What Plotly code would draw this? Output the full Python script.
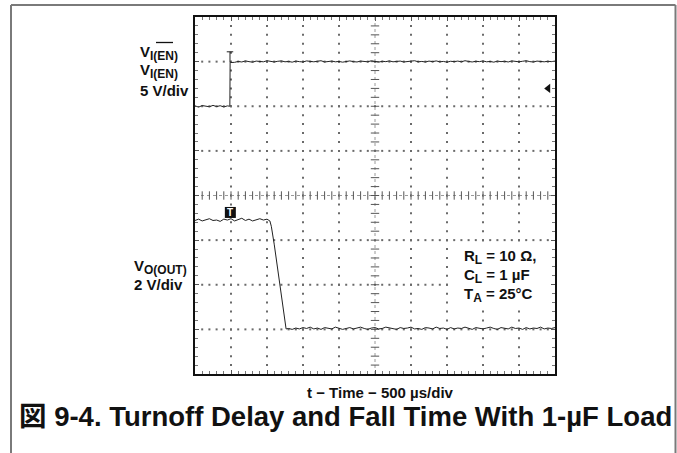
import plotly.graph_objects as go

# ---- scope settings -------------------------------------------------------
X_RANGE_US = [0, 5000]          # 10 divisions at 500 us/div
US_PER_DIV = 500
Y_DIVS = [-4, 4]                # 8 vertical divisions
CH1_OFFSET, CH1_V_PER_DIV = 2.0, 5.0    # V_I(EN), 5 V/div
CH2_OFFSET, CH2_V_PER_DIV = -3.0, 2.0   # V_O(OUT), 2 V/div
TRIGGER_US = 486
TRIGGER_LEVEL_V = 2.0

# ---- channel 1: enable input (V) ------------------------------------------
ch1_t = list(range(0, 451, 50)) + [484, 488] + list(range(500, 5001, 50))
ch1_v = [0.05, -0.10, 0.08, 0.00, -0.06, 0.10, -0.04, 0.06, -0.08, 0.04,
         0.00, 5.00,
         4.90, 4.92, 5.02, 4.96, 5.08, 5.00, 4.94, 5.06, 5.02, 4.98,
         5.10, 5.00, 4.96, 5.04, 5.08, 4.98, 5.02, 4.94, 5.06, 5.00,
         4.96, 5.08, 5.02, 4.98, 5.04, 5.10, 4.96, 5.00, 5.06, 4.98,
         5.02, 4.94, 5.04, 5.08, 5.00, 4.96, 5.06, 5.02, 4.98, 5.10,
         5.00, 4.94, 5.04, 5.00, 5.08, 4.98, 5.02, 5.06, 4.96, 5.00,
         5.04, 5.10, 4.98, 5.02, 4.96, 5.06, 5.00, 5.08, 4.98, 5.02,
         4.94, 5.04, 5.00, 5.06, 4.98, 5.10, 5.02, 4.96, 5.04, 5.00,
         5.08, 4.98, 5.02, 4.94, 5.06, 5.00, 5.04, 4.96, 5.08, 5.02,
         4.98, 5.04, 5.10, 5.00, 4.96, 5.06, 5.02, 4.98, 5.04, 5.00, 5.06]

# ---- channel 2: output voltage (V) ----------------------------------------
ch2_t = (list(range(0, 1001, 50))
         + [1040, 1060, 1100, 1150, 1200, 1250, 1265]
         + list(range(1300, 5001, 50)))
ch2_v = [4.88, 4.94, 4.86, 4.92, 4.96, 4.88, 4.90, 4.84, 4.94, 4.90,
         4.96, 4.86, 4.92, 4.98, 4.88, 4.94, 4.86, 4.92, 4.96, 4.90, 4.94,
         4.86, 4.62, 3.82, 2.70, 1.52, 0.36, 0.02,
         0.04, 0.00, 0.06, 0.02, 0.08, 0.04, 0.10, 0.02, 0.06, 0.00,
         0.08, 0.04, 0.02, 0.10, 0.06, 0.00, 0.04, 0.08, 0.02, 0.06,
         0.10, 0.04, 0.00, 0.06, 0.08, 0.02, 0.04, 0.10, 0.06, 0.02,
         0.00, 0.08, 0.04, 0.06, 0.10, 0.02, 0.04, 0.00, 0.08, 0.06,
         0.02, 0.10, 0.04, 0.06, 0.00, 0.08, 0.02, 0.06, 0.04, 0.10,
         0.06, 0.00, 0.08, 0.04, 0.02, 0.06, 0.10, 0.04, 0.00, 0.08,
         0.06, 0.02, 0.10, 0.04, 0.06, 0.00, 0.08, 0.02, 0.06, 0.04,
         0.10, 0.02, 0.06, 0.04, 0.08]

ch1_y = [CH1_OFFSET + v / CH1_V_PER_DIV for v in ch1_v]
ch2_y = [CH2_OFFSET + v / CH2_V_PER_DIV for v in ch2_v]

# ---- page geometry (pixels) ------------------------------------------------
W, H = 677, 453
L, R, T, B = 195, 555, 17, 374


def px(x):
    return (x - L) / (R - L)


def py(y):
    return (B - y) / (B - T)


FONT = "Liberation Sans, Arial, Noto Sans CJK JP, sans-serif"
INK = "#111111"

fig = go.Figure()

# graticule: dotted division lines (dots on every minor step)
minor_x = list(range(X_RANGE_US[0] + 100, X_RANGE_US[1], 100))
minor_y = [round(-4 + 0.2 * k, 2) for k in range(1, 40)]
major_x = [x for x in range(500, 5000, 500) if x != 2500]
major_y = [-3, -2, -1, 1, 2, 3]
gx, gy = [], []
for yv in major_y:
    for xv in minor_x:
        gx.append(xv); gy.append(yv)
for xv in major_x:
    for yv in minor_y:
        gx.append(xv); gy.append(yv)
fig.add_trace(go.Scatter(x=gx, y=gy, mode="markers", hoverinfo="skip",
                         marker=dict(size=2, color="#6a6a6a", symbol="square"),
                         showlegend=False))

# center cross with tick marks
fig.add_trace(go.Scatter(x=X_RANGE_US, y=[0, 0], mode="lines", hoverinfo="skip",
                         line=dict(color="#9a9a9a", width=1, dash="dot"),
                         showlegend=False))
fig.add_trace(go.Scatter(x=[2500, 2500], y=Y_DIVS, mode="lines", hoverinfo="skip",
                         line=dict(color="#9a9a9a", width=1, dash="dot"),
                         showlegend=False))
fig.add_trace(go.Scatter(x=minor_x, y=[0] * len(minor_x), mode="markers",
                         hoverinfo="skip",
                         marker=dict(symbol="line-ns", size=6,
                                     line=dict(color="#555", width=1)),
                         showlegend=False))
fig.add_trace(go.Scatter(x=[2500] * len(minor_y), y=minor_y, mode="markers",
                         hoverinfo="skip",
                         marker=dict(symbol="line-ew", size=6,
                                     line=dict(color="#555", width=1)),
                         showlegend=False))

# waveforms
fig.add_trace(go.Scatter(x=ch1_t, y=ch1_y, mode="lines",
                         line=dict(color="#222", width=1), showlegend=False))
fig.add_trace(go.Scatter(x=ch2_t, y=ch2_y, mode="lines",
                         line=dict(color="#222", width=1), showlegend=False))

# channel-1 trigger point glyph
hi1 = CH1_OFFSET + 1.0
fig.add_trace(go.Scatter(x=[TRIGGER_US - 45, TRIGGER_US + 45, None, TRIGGER_US, TRIGGER_US],
                         y=[hi1 + 0.22, hi1 + 0.22, None, hi1 + 0.22, hi1],
                         mode="lines", line=dict(color="#222", width=1),
                         hoverinfo="skip", showlegend=False))

# channel-2 trigger marker: filled box
hi2 = CH2_OFFSET + 4.9 / CH2_V_PER_DIV
fig.add_trace(go.Scatter(x=[TRIGGER_US + 5], y=[hi2 + 0.17], mode="markers",
                         hoverinfo="skip",
                         marker=dict(symbol="square", size=11, color="#111"),
                         showlegend=False))

# trigger level arrow on the right edge
fig.add_trace(go.Scatter(x=[4905], y=[CH1_OFFSET + TRIGGER_LEVEL_V / CH1_V_PER_DIV],
                         mode="markers", hoverinfo="skip",
                         marker=dict(symbol="triangle-left", size=8, color=INK),
                         showlegend=False, cliponaxis=False))

axis_common = dict(showgrid=False, zeroline=False, showline=True,
                   linecolor=INK, linewidth=2, mirror="allticks",
                   ticks="inside", ticklen=4, tickcolor="#555",
                   showticklabels=False, fixedrange=True)
fig.update_xaxes(range=X_RANGE_US, tickmode="linear", tick0=0, dtick=US_PER_DIV,
                 minor=dict(ticks="inside", dtick=100, ticklen=3,
                            tickcolor="#777", showgrid=False),
                 **axis_common)
fig.update_yaxes(range=Y_DIVS, tickmode="linear", tick0=-4, dtick=1,
                 minor=dict(ticks="inside", dtick=0.2, ticklen=3,
                            tickcolor="#777", showgrid=False),
                 **axis_common)

ann = []


def label(text, x, y, size=15, anchor="left"):
    ann.append(dict(text=text, x=px(x), y=py(y), xref="paper", yref="paper",
                    xanchor=anchor, yanchor="middle", showarrow=False,
                    font=dict(family=FONT, size=size, color=INK)))


def sub(s):
    return "<sub><span style='font-size:12px'>" + s + "</span></sub>"


label("<b>V" + sub("I(EN)") + "</b>", 138, 53.5)
label("<b>V" + sub("I(EN)") + "</b>", 138, 71)
label("<b>5 V/div</b>", 138, 90)
label("<b>V" + sub("O(OUT)") + "</b>", 132, 266.5)
label("<b>2 V/div</b>", 132, 284.5)
label("<b>R" + sub("L") + " = 10 Ω,</b>", 462, 257)
label("<b>C" + sub("L") + " = 1 µF</b>", 462, 276)
label("<b>T" + sub("A") + " = 25°C</b>", 462, 294.5)
label("<b>t − Time − 500 µs/div</b>", 380, 392, size=15, anchor="center")
label("<b>図 9-4. Turnoff Delay and Fall Time With 1-µF Load</b>", 345, 416,
      size=27.5, anchor="center")

# letter T inside the channel-2 trigger box
ann.append(dict(text="<b>T</b>", x=TRIGGER_US + 5, y=hi2 + 0.17,
                xref="x", yref="y", showarrow=False,
                xanchor="center", yanchor="middle",
                font=dict(family=FONT, size=10, color="white")))

shapes = [
    # outer figure frame
    dict(type="line", xref="paper", yref="paper", x0=px(11), x1=px(675.5),
         y0=py(5), y1=py(5), line=dict(color="#7a7a7a", width=2)),
    dict(type="line", xref="paper", yref="paper", x0=px(11), x1=px(11),
         y0=py(5), y1=py(460), line=dict(color="#7a7a7a", width=2)),
    dict(type="line", xref="paper", yref="paper", x0=px(675.5), x1=px(675.5),
         y0=py(5), y1=py(460), line=dict(color="#7a7a7a", width=2)),
    # overline on the active-low enable
    dict(type="line", xref="paper", yref="paper", x0=px(156), x1=px(173),
         y0=py(42.5), y1=py(42.5), line=dict(color=INK, width=1.3)),
    # blank panel behind the test-condition text
    dict(type="rect", xref="paper", yref="paper", x0=px(451), x1=px(550),
         y0=py(304), y1=py(246), fillcolor="white", line=dict(width=0),
         layer="above"),
]

fig.update_layout(width=W, height=H, margin=dict(l=L, r=W - R, t=T, b=H - B),
                  paper_bgcolor="white", plot_bgcolor="white",
                  annotations=ann, shapes=shapes, showlegend=False)

fig.write_html("out.html", config={"displayModeBar": False})
